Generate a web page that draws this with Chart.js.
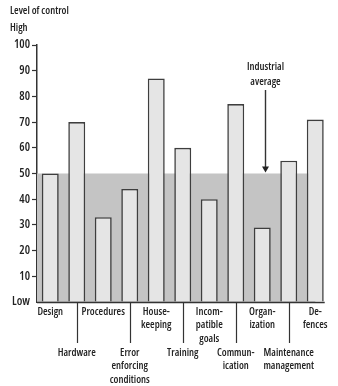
<!DOCTYPE html>
<html>
<head>
<meta charset="utf-8">
<script src="https://cdn.jsdelivr.net/npm/chart.js@4"></script>
<style>
  body { margin: 0; background: #fff; }
  canvas { display: block; }
</style>
</head>
<body>
<canvas id="controlChart" width="338" height="386"></canvas>
<script>
// label lines for each category (odd ones sit on the lower row)
const categories = [
  ["Design"],
  ["Hardware"],
  ["Procedures"],
  ["Error", "enforcing", "conditions"],
  ["House-", "keeping"],
  ["Training"],
  ["Incom-", "patible", "goals"],
  ["Commun-", "ication"],
  ["Organ-", "ization"],
  ["Maintenance", "management"],
  ["De-", "fences"],
];
const levels = [50, 70, 33, 44, 87, 60, 40, 77, 29, 55, 71];
const industrialAverage = 50;
const yTicks = [0, 10, 20, 30, 40, 50, 60, 70, 80, 90, 100];

const FAMILY = '"Open Sans", sans-serif';
const WEIGHT = "600 condensed";
const INK = "#222";
const LINE = "#333";

const annotations = {
  id: "annotations",
  beforeDatasetsDraw(chart) {
    const { ctx, chartArea, scales } = chart;
    const x = scales.x, y = scales.y;
    // shaded band up to the industrial average
    const top = y.getPixelForValue(industrialAverage);
    const right = x.getPixelForValue(categories.length - 1);
    ctx.save();
    ctx.fillStyle = "#c4c4c4";
    ctx.fillRect(chartArea.left, top, right - chartArea.left, chartArea.bottom - top);
    ctx.restore();
  },
  afterDraw(chart) {
    const { ctx, chartArea, scales } = chart;
    const x = scales.x, y = scales.y;
    const bars = chart.getDatasetMeta(0).data;
    const last = bars[bars.length - 1];
    ctx.save();

    // baseline runs to the end of the last bar
    ctx.strokeStyle = LINE;
    ctx.lineWidth = 1.5;
    ctx.beginPath();
    ctx.moveTo(chartArea.left, chartArea.bottom + 0.5);
    ctx.lineTo(last.x + last.width / 2 + 1, chartArea.bottom + 0.5);
    ctx.stroke();

    ctx.fillStyle = INK;
    ctx.font = WEIGHT + " 10.5px " + FAMILY;
    ctx.textBaseline = "middle";
    ctx.textAlign = "left";
    ctx.fillText("Level of control", 10, 11);
    ctx.fillText("High", 10, 28);

    // leader lines for the lower row of labels
    ctx.lineWidth = 1.2;
    for (let i = 1; i < categories.length; i += 2) {
      const px = Math.round(x.getPixelForValue(i)) + 0.5;
      ctx.beginPath();
      ctx.moveTo(px, chartArea.bottom);
      ctx.lineTo(px, 343);
      ctx.stroke();
    }

    // industrial average pointer
    const ax = Math.round(x.getPixelForValue(8)) + 3.5;
    const tip = y.getPixelForValue(industrialAverage) - 1;
    ctx.textAlign = "center";
    ctx.fillText("Industrial", ax, 67);
    ctx.fillText("average", ax, 82);
    ctx.lineWidth = 1.4;
    ctx.beginPath();
    ctx.moveTo(ax, 90);
    ctx.lineTo(ax, tip - 5);
    ctx.stroke();
    ctx.beginPath();
    ctx.moveTo(ax - 3.5, tip - 6);
    ctx.lineTo(ax + 3.5, tip - 6);
    ctx.lineTo(ax, tip);
    ctx.closePath();
    ctx.fill();
    ctx.restore();
  },
};

new Chart(document.getElementById("controlChart"), {
  type: "bar",
  data: {
    labels: categories.map((c) => c.join(" ")),
    datasets: [
      {
        data: levels,
        backgroundColor: "#e5e5e5",
        borderColor: "#3e3e3e",
        borderWidth: 1.6,
        borderSkipped: "bottom",
        barPercentage: 0.64,
        categoryPercentage: 1,
      },
    ],
  },
  options: {
    responsive: false,
    animation: false,
    devicePixelRatio: 1,
    layout: { padding: { top: 45, right: 9.5, left: 0, bottom: 0 } },
    plugins: { legend: { display: false }, tooltip: { enabled: false } },
    scales: {
      x: {
        grid: { display: false, drawTicks: false },
        border: { display: false },
        ticks: {
          autoSkip: false,
          maxRotation: 0,
          minRotation: 0,
          padding: 3,
          color: INK,
          font: { family: FAMILY, weight: WEIGHT, size: 10.5, lineHeight: 1.3 },
          callback: (v, i) => (i % 2 ? ["", "", ""].concat(categories[i]) : categories[i]),
        },
        afterFit: (scale) => { scale.height = 84; },
      },
      y: {
        min: 0,
        max: 100,
        afterBuildTicks: (scale) => { scale.ticks = yTicks.map((v) => ({ value: v })); },
        grid: {
          drawOnChartArea: false,
          drawTicks: true,
          tickLength: 5,
          tickWidth: 1.2,
          tickColor: (c) => (c.tick && c.tick.value === 0 ? "rgba(0,0,0,0)" : LINE),
        },
        border: { display: true, color: LINE, width: 1.5 },
        ticks: {
          padding: 2,
          color: INK,
          font: { family: FAMILY, weight: WEIGHT, size: 12 },
          callback: (v) => (v === 0 ? "Low" : v),
        },
        afterFit: (scale) => { scale.width = 37; },
      },
    },
  },
  plugins: [annotations],
});
</script>
</body>
</html>
